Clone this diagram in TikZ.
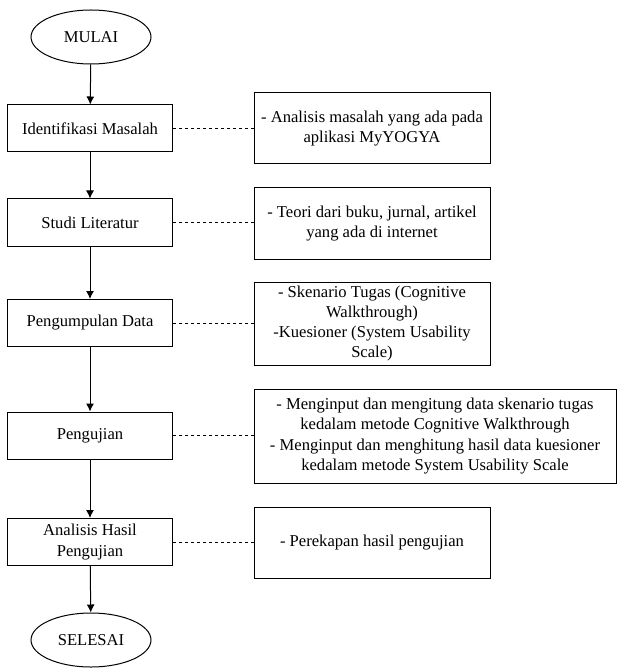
\documentclass[tikz,border=0pt]{standalone}
\usepackage{fontspec}
\setmainfont{Liberation Serif}
\usetikzlibrary{shapes.geometric,arrows.meta}
\begin{document}
\begin{tikzpicture}[x=1pt,y=-1pt,
  txt/.style={font=\fontsize{16.6}{20.3}\selectfont, align=center, inner sep=0pt},
  stepbox/.style={txt, draw, line width=1pt, minimum width=165pt, minimum height=47pt},
  notebox/.style={txt, draw, line width=1pt, minimum width=236pt},
  term/.style={txt, draw, ellipse, line width=1pt, minimum width=120pt, minimum height=54pt},
  flow/.style={line width=1pt, -{Latex[length=8pt,width=8pt]}},
  link/.style={line width=0.8pt, dash pattern=on 3pt off 3pt}]
\useasboundingbox (0,0) rectangle (618,668);

\node[term] (mulai) at (91,37) {MULAI};
\node[stepbox] (s1) at (90,128.5) {Identifikasi Masalah};
\node[stepbox] (s2) at (90,222.5) {Studi Literatur};
\node[stepbox] (s3) at (90,323) {Pengumpulan Data};
\node[stepbox] (s4) at (90,435.5) {Pengujian};
\node[stepbox] (s5) at (90,542) {Analisis Hasil\\Pengujian};
\node[term] (selesai) at (91,640) {SELESAI};

\node[notebox, minimum height=71pt] (n1) at (372,128.5) {- Analisis masalah yang ada pada\\aplikasi MyYOGYA};
\node[notebox, minimum height=71pt] (n2) at (372,223.5) {- Teori dari buku, jurnal, artikel\\yang ada di internet};
\node[notebox, minimum height=83pt] (n3) at (372,323.5) {- Skenario Tugas (Cognitive\\Walkthrough)\\-Kuesioner (System Usability\\Scale)};
\node[notebox, minimum width=362pt, minimum height=94pt] (n4) at (435,436) {- Menginput dan mengitung data skenario tugas\\kedalam metode Cognitive Walkthrough\\- Menginput dan menghitung hasil data kuesioner\\kedalam metode System Usability Scale};
\node[notebox, minimum height=71pt] (n5) at (372,542.5) {- Perekapan hasil pengujian};

\draw[flow] (mulai) -- (s1);
\draw[flow] (s1) -- (s2);
\draw[flow] (s2) -- (s3);
\draw[flow] (s3) -- (s4);
\draw[flow] (s4) -- (s5);
\draw[flow] (s5) -- (selesai);

\draw[link] (s1.east) -- (s1.east -| n1.west);
\draw[link] (s2.east) -- (s2.east -| n2.west);
\draw[link] (s3.east) -- (s3.east -| n3.west);
\draw[link] (s4.east) -- (s4.east -| n4.west);
\draw[link] (s5.east) -- (s5.east -| n5.west);
\end{tikzpicture}
\end{document}
